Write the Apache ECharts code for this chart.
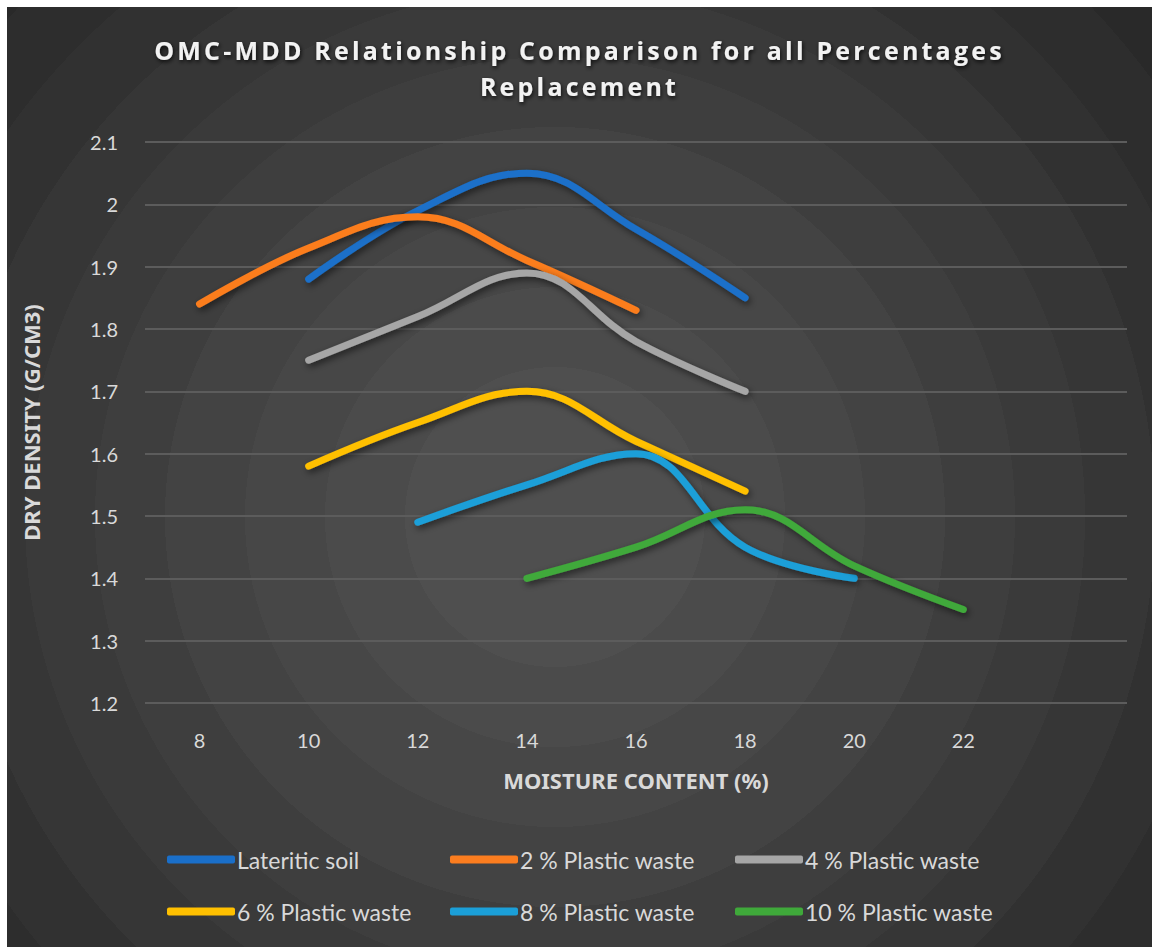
<!DOCTYPE html>
<html>
<head>
<meta charset="utf-8">
<script src="https://cdn.jsdelivr.net/npm/echarts@6/dist/echarts.min.js"></script>
<style>
  html, body { margin: 0; padding: 0; background: #ffffff; }
  #frame {
    position: absolute; left: 7px; top: 7px; width: 1145px; height: 940px;
    background: radial-gradient(circle at 548px 510px,
      #4f4f4f 0px, #4f4f4f 150px,
      #4b4b4b 150px, #4b4b4b 230px,
      #474747 230px, #474747 310px,
      #434343 310px, #434343 390px,
      #3e3e3e 390px, #3e3e3e 460px,
      #3a3a3a 460px, #3a3a3a 530px,
      #363636 530px, #363636 600px,
      #313131 600px, #313131 670px,
      #2d2d2d 670px, #2d2d2d 740px,
      #292929 740px, #292929 810px,
      #242424 810px);
  }
  #chart { width: 1145px; height: 940px; }
  /* widened tracking for the heading */
  #chart text[style*="Open Sans"], #chart text[font-family*="Open Sans"] { letter-spacing: 3.2px; }
</style>
</head>
<body>
<div id="frame"><div id="chart"></div></div>
<script>
// moisture content (%) categories; trailing blank slot keeps the plot wider than the data
const moisture = ['8', '10', '12', '14', '16', '18', '20', '22', ''];

// dry density (g/cm3) per mix, aligned with the moisture categories (null = not tested)
const lateritic = [null, 1.88, 1.99, 2.05, 1.96, 1.85, null, null, null];
const plastic2  = [1.84, 1.93, 1.98, 1.91, 1.83, null, null, null, null];
const plastic4  = [null, 1.75, 1.82, 1.89, 1.78, 1.70, null, null, null];
const plastic6  = [null, 1.58, 1.65, 1.70, 1.62, 1.54, null, null, null];
const plastic8  = [null, null, 1.49, 1.55, 1.60, 1.45, 1.40, null, null];
const plastic10 = [null, null, null, 1.40, 1.45, 1.51, 1.42, 1.35, null];

const seriesNames = ['Lateritic soil', '2 % Plastic waste', '4 % Plastic waste',
                     '6 % Plastic waste', '8 % Plastic waste', '10 % Plastic waste'];
const seriesData = [lateritic, plastic2, plastic4, plastic6, plastic8, plastic10];
const seriesColors = ['#1a6fc9', '#fb7d1f', '#a6a6a6', '#ffc000', '#1b9fd8', '#3fa93a'];

const FONT = 'Lato, "Liberation Sans", sans-serif';
const NAME_FONT = '"Noto Sans", Lato, sans-serif';

const chart = echarts.init(document.getElementById('chart'), null, { renderer: 'svg' });

// legend laid out as a 3 x 2 table, one legend component per cell
const legendCols = [155, 438, 723];
const legendRows = [836, 888];
const legends = seriesNames.map((name, i) => ({
  orient: 'horizontal',
  left: legendCols[i % 3],
  top: legendRows[Math.floor(i / 3)],
  itemWidth: 68,
  itemHeight: 8,
  itemGap: 0,
  icon: 'roundRect',
  selectedMode: false,
  data: [name],
  textStyle: { color: '#d9d9d9', fontSize: 23, fontFamily: FONT, padding: [0, 0, 0, -3] }
}));

chart.setOption({
  backgroundColor: 'transparent',
  animation: false,
  title: {
    text: 'OMC-MDD Relationship Comparison for all Percentages\nReplacement',
    left: 'center',
    top: 20,
    textStyle: {
      color: '#f2f2f2',
      fontSize: 25,
      fontWeight: 'bold',
      fontFamily: '"Open Sans", Lato, sans-serif',
      lineHeight: 36,
      textShadowColor: 'rgba(0,0,0,0.8)',
      textShadowBlur: 4,
      textShadowOffsetX: 1,
      textShadowOffsetY: 2
    }
  },
  legend: legends,
  grid: { left: 138, right: 25, top: 135, bottom: 244, containLabel: false },
  xAxis: {
    type: 'category',
    data: moisture,
    boundaryGap: true,
    name: 'MOISTURE CONTENT (%)',
    nameLocation: 'middle',
    nameGap: 66,
    nameTextStyle: { color: '#d9d9d9', fontSize: 22, fontWeight: 'bold', fontFamily: NAME_FONT },
    axisLine: { show: false },
    axisTick: { show: false },
    axisLabel: { color: '#d9d9d9', fontSize: 20, fontFamily: FONT, margin: 27 },
    splitLine: { show: false }
  },
  yAxis: {
    type: 'value',
    min: 1.2,
    max: 2.1,
    interval: 0.1,
    name: 'DRY DENSITY (G/CM3)',
    nameLocation: 'middle',
    nameGap: 103,
    nameRotate: 90,
    nameTextStyle: { color: '#d9d9d9', fontSize: 22, fontWeight: 'bold', fontFamily: NAME_FONT },
    axisLine: { show: false },
    axisTick: { show: false },
    axisLabel: {
      color: '#d9d9d9', fontSize: 20, fontFamily: FONT, margin: 27,
      formatter: v => String(Math.round(v * 10) / 10)
    },
    splitLine: { lineStyle: { color: '#5c5c5c', width: 2 } }
  },
  series: seriesNames.map((name, i) => ({
    name: name,
    type: 'line',
    data: seriesData[i],
    smooth: 0.4,
    connectNulls: false,
    showSymbol: false,
    symbol: 'none',
    color: seriesColors[i],
    lineStyle: {
      width: 7,
      color: seriesColors[i],
      cap: 'round',
      join: 'round',
      shadowColor: 'rgba(0,0,0,0.55)',
      shadowBlur: 7,
      shadowOffsetX: 2,
      shadowOffsetY: 3
    }
  }))
});
</script>
</body>
</html>
